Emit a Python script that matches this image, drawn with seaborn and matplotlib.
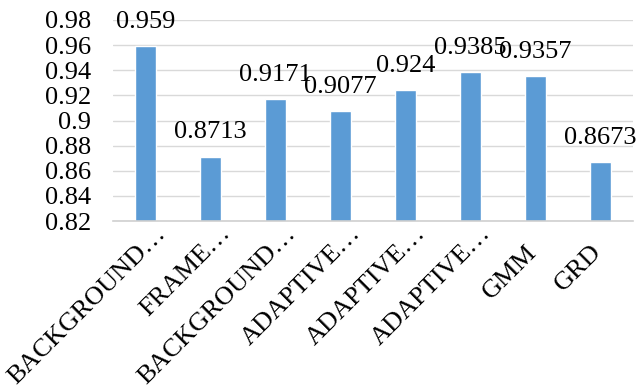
import numpy as np
import pandas as pd
import matplotlib
matplotlib.use("Agg")
import matplotlib.pyplot as plt
import matplotlib.transforms as mtransforms
import seaborn as sns

# Detection accuracy per method
labels = ["BACKGROUND\u2026", "FRAME\u2026", "BACKGROUND\u2026", "ADAPTIVE\u2026",
          "ADAPTIVE\u2026", "ADAPTIVE\u2026", "GMM", "GRD"]
values = [0.959, 0.8713, 0.9171, 0.9077, 0.924, 0.9385, 0.9357, 0.8673]
yticks = [0.82, 0.84, 0.86, 0.88, 0.9, 0.92, 0.94, 0.96, 0.98]
ytick_labels = ["0.82", "0.84", "0.86", "0.88", "0.9", "0.92", "0.94", "0.96", "0.98"]

SERIF = ["Liberation Serif", "DejaVu Serif"]
FS = 19

sns.set_theme(style="white")
plt.rcParams["font.family"] = SERIF

df = pd.DataFrame({"pos": np.arange(len(values)), "value": values})

fig = plt.figure(figsize=(6.38, 3.9), dpi=100)
ax = fig.add_axes([113 / 638, 1 - 221 / 390, 520 / 638, 201 / 390])

sns.barplot(data=df, x="pos", y="value", color="#5B9BD5", saturation=1,
            width=0.31, ax=ax)

ax.set_ylim(0.82, 0.98)
ax.set_xlim(-0.5, len(values) - 0.5)
ax.set_yticks(yticks)
ax.set_yticklabels(ytick_labels, fontsize=FS, color="black", family=SERIF)
ax.yaxis.grid(True, color="#D9D9D9", linewidth=1)
ax.set_axisbelow(True)
ax.tick_params(axis="y", length=0, pad=16)
ax.set_xticks(np.arange(len(labels)))
ax.set_xticklabels([])
ax.tick_params(axis="x", length=0)
ax.set_xlabel("")
ax.set_ylabel("")
for side in ["left", "right", "top"]:
    ax.spines[side].set_visible(False)
ax.spines["bottom"].set_color("#D0D0D0")
ax.spines["bottom"].set_linewidth(1.2)

# Value labels above each bar
for i, v in enumerate(values):
    ax.annotate(f"{v:g}", xy=(i, v), xytext=(0, 13), textcoords="offset points",
                ha="center", va="baseline", fontsize=FS, color="black",
                family=SERIF)

# Category labels: rotated 45 degrees; the word ends under its bar and any
# trailing ellipsis runs past that point.
renderer = fig.canvas.get_renderer()
probe_a = fig.text(0, 0, "X\u2026", fontsize=FS, family=SERIF)
probe_b = fig.text(0, 0, "X", fontsize=FS, family=SERIF)
ell_px = (probe_a.get_window_extent(renderer).width
          - probe_b.get_window_extent(renderer).width)
probe_a.remove()
probe_b.remove()

px2pt = 72 / fig.dpi
base = mtransforms.blended_transform_factory(ax.transData, ax.transAxes)
for i, lab in enumerate(labels):
    w = ell_px if lab.endswith("\u2026") else 0.0
    dx = (2 + w * np.cos(np.pi / 4)) * px2pt
    dy = (-32 + w * np.sin(np.pi / 4)) * px2pt
    tr = mtransforms.offset_copy(base, fig=fig, x=dx, y=dy, units="points")
    ax.text(i, 0, lab, transform=tr, rotation=45, rotation_mode="anchor",
            ha="right", va="baseline", fontsize=FS, color="black",
            family=SERIF, clip_on=False)

fig.savefig("out.png", dpi=100)
